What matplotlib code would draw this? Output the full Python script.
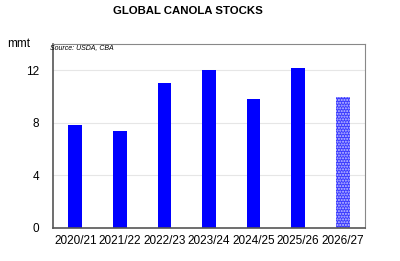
import matplotlib.pyplot as plt

seasons = ["2020/21", "2021/22", "2022/23", "2023/24", "2024/25", "2025/26", "2026/27"]
stocks = [7.8, 7.35, 11.0, 12.0, 9.85, 12.2, 9.95]
forecast = [False, False, False, False, False, False, True]

plt.rcParams["font.family"] = ["Liberation Sans", "DejaVu Sans"]


def run():
    fig = plt.figure(figsize=(4.0, 2.61), dpi=100)
    ax = fig.add_axes([53 / 400, 1 - 228 / 261, 312 / 400, 184 / 261])

    x = range(len(seasons))
    for i, (v, f) in enumerate(zip(stocks, forecast)):
        if f:
            ax.bar(i, v, width=0.31, color="#3a3aff", edgecolor="#c8c8ff",
                   hatch="......", linewidth=0)
        else:
            ax.bar(i, v, width=0.31, color="#0000ff", linewidth=0)

    ax.set_xlim(-0.5, 6.5)
    ax.set_ylim(0, 14)
    ax.set_yticks([0, 4, 8, 12])
    ax.set_xticks(list(x))
    ax.set_xticklabels(seasons)
    ax.tick_params(axis="both", length=0, labelsize=8.5, pad=5)
    ax.tick_params(axis="y", pad=10)
    ax.yaxis.grid(True, color="#e6e6e6", linewidth=0.8)
    ax.set_axisbelow(True)
    for s in ax.spines.values():
        s.set_color("#888888")
        s.set_linewidth(0.8)
    ax.spines["left"].set_color("#555555")
    ax.spines["bottom"].set_color("#555555")
    ax.spines["left"].set_linewidth(1.2)
    ax.spines["bottom"].set_linewidth(1.2)

    fig.text(188 / 400, 1 - 11 / 261, "GLOBAL CANOLA STOCKS", ha="center", va="center",
             fontsize=8.2, fontweight="bold")
    fig.text(7 / 400, 1 - 44 / 261, "mmt", ha="left", va="center", fontsize=8.5)
    fig.text(50 / 400, 1 - 48 / 261, "Source: USDA, CBA", ha="left", va="center",
             fontsize=5, style="italic")

    fig.savefig("out.png", dpi=100)


if __name__ == '__main__':
    run()
